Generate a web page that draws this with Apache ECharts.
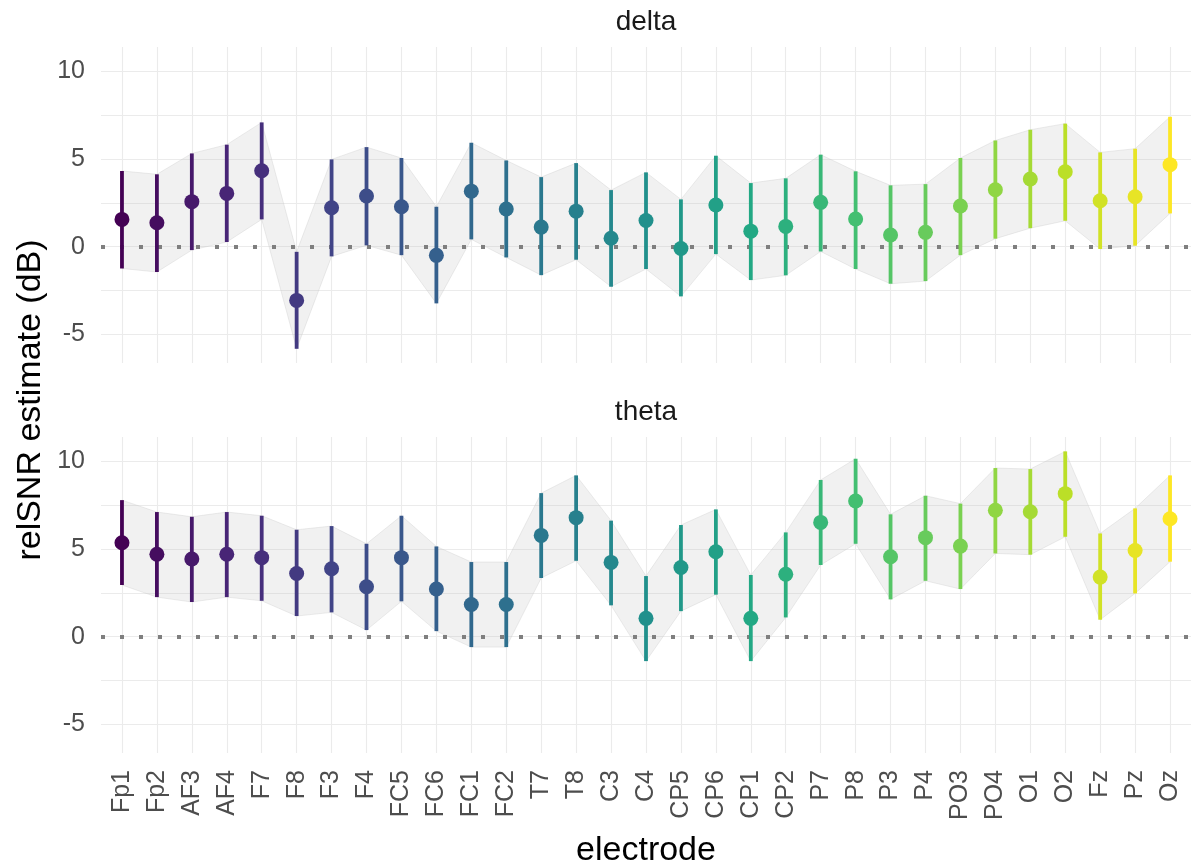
<!DOCTYPE html>
<html>
<head>
<meta charset="utf-8">
<script src="https://cdn.jsdelivr.net/npm/echarts@6/dist/echarts.min.js"></script>
<style>html,body{margin:0;padding:0;background:#fff;}#chart{width:1196px;height:868px;}</style>
</head>
<body>
<div id="chart"></div>
<script>
const electrodes = ['Fp1','Fp2','AF3','AF4','F7','F8','F3','F4','FC5','FC6','FC1','FC2','T7','T8','C3','C4','CP5','CP6','CP1','CP2','P7','P8','P3','P4','PO3','PO4','O1','O2','Fz','Pz','Oz'];
const panels = ['delta', 'theta'];

const deltaEst   = [1.56, 1.37, 2.57, 3.04, 4.33, -3.06, 2.22, 2.89, 2.28, -0.49, 3.17, 2.15, 1.12, 2.03, 0.48, 1.50, -0.10, 2.38, 0.89, 1.16, 2.53, 1.58, 0.67, 0.82, 2.32, 3.25, 3.86, 4.28, 2.62, 2.85, 4.68];
const deltaLower = [-1.24, -1.44, -0.19, 0.27, 1.56, -5.82, -0.55, 0.08, -0.48, -3.23, 0.42, -0.61, -1.62, -0.74, -2.28, -1.27, -2.83, -0.42, -1.90, -1.63, -0.27, -1.27, -2.11, -1.96, -0.48, 0.46, 1.06, 1.48, -0.13, 0.06, 1.90];
const deltaUpper = [4.32, 4.13, 5.32, 5.82, 7.09, -0.29, 4.98, 5.68, 5.06, 2.28, 5.93, 4.92, 3.97, 4.77, 3.23, 4.24, 2.70, 5.19, 3.63, 3.90, 5.25, 4.30, 3.50, 3.57, 5.06, 6.06, 6.67, 7.02, 5.38, 5.59, 7.41];

const thetaEst   = [5.36, 4.70, 4.43, 4.70, 4.51, 3.61, 3.88, 2.85, 4.51, 2.72, 1.84, 1.84, 5.78, 6.79, 4.24, 1.05, 3.95, 4.85, 1.05, 3.56, 6.52, 7.74, 4.56, 5.65, 5.17, 7.21, 7.13, 8.16, 3.40, 4.92, 6.73];
const thetaLower = [2.95, 2.26, 1.98, 2.26, 2.05, 1.18, 1.39, 0.38, 2.02, 0.32, -0.59, -0.59, 3.35, 4.33, 1.79, -1.39, 1.46, 2.40, -1.39, 1.10, 4.09, 5.30, 2.13, 3.19, 2.72, 4.75, 4.68, 5.70, 0.97, 2.47, 4.28];
const thetaUpper = [7.79, 7.11, 6.84, 7.11, 6.90, 6.10, 6.31, 5.30, 6.90, 5.15, 4.26, 4.26, 8.19, 9.20, 6.62, 3.46, 6.37, 7.26, 3.52, 5.95, 8.94, 10.15, 6.98, 8.04, 7.59, 9.62, 9.56, 10.57, 5.89, 7.32, 9.20];

const yTickLabels = [-5, 0, 5, 10];
const yGridValues = [-5, -2.5, 0, 2.5, 5, 7.5, 10];

// viridis palette (style)
const viridisAnchors = ['#440154','#482576','#414487','#35608D','#2A788E','#21908C','#22A884','#43BF71','#7AD151','#BBDF27','#FDE725'];
function hexToRgb(h){return [parseInt(h.slice(1,3),16),parseInt(h.slice(3,5),16),parseInt(h.slice(5,7),16)];}
function viridis(n){
  const out=[];
  for(let i=0;i<n;i++){
    const t=n===1?0:i/(n-1);
    const p=t*(viridisAnchors.length-1);
    const k=Math.min(Math.floor(p),viridisAnchors.length-2);
    const f=p-k;
    const a=hexToRgb(viridisAnchors[k]), b=hexToRgb(viridisAnchors[k+1]);
    const c=a.map((v,j)=>Math.round(v+(b[j]-v)*f));
    out.push('rgb('+c.join(',')+')');
  }
  return out;
}
const palette = viridis(electrodes.length);

const FONT = "'Liberation Sans', Arial, sans-serif";
const chart = echarts.init(document.getElementById('chart'), null, {renderer:'canvas'});

const grids = [
  {left:101, right:5, top:47, height:316},
  {left:101, right:5, top:437, height:316}
];

function xAxisCfg(gi, showLabels){
  return {
    type:'value', gridIndex:gi, min:-0.6, max:electrodes.length-1+0.6,
    axisLine:{show:false}, axisTick:{show:false}, splitLine:{show:false},
    axisLabel:{
      show:showLabels,
      customValues: electrodes.map((_,i)=>i),
      formatter:(v)=>electrodes[Math.round(v)] || '',
      rotate:90, fontSize:25, color:'#4D4D4D', fontFamily:FONT, margin:17
    }
  };
}
function yAxisCfg(gi){
  return {
    type:'value', gridIndex:gi, min:-6.63, max:11.39,
    axisLine:{show:false}, axisTick:{show:false}, splitLine:{show:false},
    axisLabel:{
      customValues: yTickLabels,
      formatter:(v)=>String(v),
      fontSize:25, color:'#4D4D4D', fontFamily:FONT, margin:16
    }
  };
}

function panelSeries(gi, est, lo, hi){
  const items = electrodes.map((_,i)=>[i, est[i], lo[i], hi[i]]);
  return [
    {
      type:'line', xAxisIndex:gi, yAxisIndex:gi, z:1,
      data: items.map(d=>[d[0], d[1]]),
      symbol:'none', lineStyle:{opacity:0}, silent:true,
      markLine:{
        z:1, silent:true, symbol:['none','none'], animation:false,
        label:{show:false},
        lineStyle:{color:'#EBEBEB', width:1.1, type:'solid'},
        data: electrodes.map((_,i)=>({xAxis:i})).concat(yGridValues.map(v=>({yAxis:v})))
      }
    },
    {
      type:'custom', xAxisIndex:gi, yAxisIndex:gi, z:2, silent:true,
      data: items,
      encode:{x:0, y:[1,2,3]},
      renderItem:(params, api)=>{
        if(params.dataIndex!==0) return {type:'group', children:[]};
        const pts=[];
        for(let i=0;i<items.length;i++) pts.push(api.coord([items[i][0], items[i][3]]));
        for(let i=items.length-1;i>=0;i--) pts.push(api.coord([items[i][0], items[i][2]]));
        return {type:'polygon', shape:{points:pts}, style:{fill:'rgba(190,190,190,0.22)', stroke:'rgba(200,200,200,0.35)', lineWidth:1}};
      }
    },
    {
      type:'line', xAxisIndex:gi, yAxisIndex:gi, z:3,
      data: items.map(d=>[d[0], d[1]]),
      symbol:'none', lineStyle:{opacity:0}, silent:true,
      markLine:{
        z:3, silent:true, symbol:['none','none'], animation:false,
        label:{show:false},
        lineStyle:{color:'#7F7F7F', width:4, type:[4,15], cap:'butt'},
        data:[{yAxis:0}]
      }
    },
    {
      type:'custom', xAxisIndex:gi, yAxisIndex:gi, z:6,
      data: items,
      encode:{x:0, y:[1,2,3]},
      renderItem:(params, api)=>{
        const x=api.value(0), e=api.value(1), l=api.value(2), h=api.value(3);
        const pt=api.coord([x,h]), pb=api.coord([x,l]), pm=api.coord([x,e]);
        const c=palette[params.dataIndex];
        return {type:'group', children:[
          {type:'line', shape:{x1:pt[0], y1:pt[1], x2:pb[0], y2:pb[1]}, style:{stroke:c, lineWidth:3.8, lineCap:'butt'}},
          {type:'circle', shape:{cx:pm[0], cy:pm[1], r:7.5}, style:{fill:c}}
        ]};
      }
    }
  ];
}

const option = {
  backgroundColor:'#ffffff',
  animation:false,
  grid: grids,
  xAxis:[xAxisCfg(0,false), xAxisCfg(1,true)],
  yAxis:[yAxisCfg(0), yAxisCfg(1)],
  series: panelSeries(0, deltaEst, deltaLower, deltaUpper).concat(panelSeries(1, thetaEst, thetaLower, thetaUpper)),
  graphic:[
    {type:'text', x:646, y:22, style:{text:panels[0], fontSize:28, fontFamily:FONT, fill:'#1A1A1A', textAlign:'center', textVerticalAlign:'middle'}},
    {type:'text', x:646, y:412, style:{text:panels[1], fontSize:28, fontFamily:FONT, fill:'#1A1A1A', textAlign:'center', textVerticalAlign:'middle'}},
    {type:'text', x:646, y:851, style:{text:'electrode', fontSize:34, fontFamily:FONT, fill:'#000000', textAlign:'center', textVerticalAlign:'middle'}},
    {type:'text', x:31, y:400, rotation:Math.PI/2, style:{text:'relSNR estimate (dB)', fontSize:34, fontFamily:FONT, fill:'#000000', textAlign:'center', textVerticalAlign:'middle'}}
  ]
};
chart.setOption(option);
</script>
</body>
</html>
